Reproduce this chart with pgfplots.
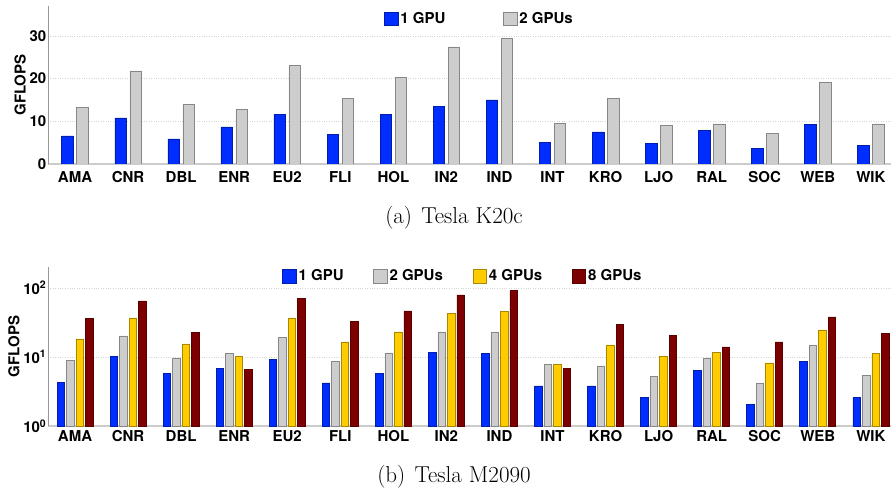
\documentclass[border=0pt]{standalone}
\usepackage{fontspec}
\usepackage{pgfplots}
\pgfplotsset{compat=1.18}
\newfontfamily\heros{TeX Gyre Heros}
\definecolor{cblue}{RGB}{0,45,255}
\definecolor{cblueD}{RGB}{0,30,170}
\definecolor{cgray}{RGB}{205,205,205}
\definecolor{cgrayD}{RGB}{135,135,135}
\definecolor{cyel}{RGB}{255,204,0}
\definecolor{cyelD}{RGB}{170,135,0}
\definecolor{cred}{RGB}{125,0,0}
\definecolor{credD}{RGB}{90,0,0}
\newcommand{\lf}{\heros\bfseries\fontsize{15}{17}\selectfont}
\pgfplotsset{
  common/.style={
    scale only axis, width=843pt,
    xmin=-0.509, xmax=15.38,
    axis x line*=bottom, axis y line*=left,
    x axis line style={draw=black!20, line width=1.6pt, -},
    y axis line style={draw=black!40, line width=0.8pt, -},
    major tick length=0pt, minor tick length=0pt,
    xtick={0,...,15},
    xticklabels={AMA,CNR,DBL,ENR,EU2,FLI,HOL,IN2,IND,INT,KRO,LJO,RAL,SOC,WEB,WIK},
    ticklabel style={font=\lf},
    ymajorgrids, grid style={dotted, draw=black!16, line width=0.5pt},
    ylabel={GFLOPS}, ylabel style={font=\lf, inner sep=2pt},
    yticklabel style={inner sep=1.5pt},
    ybar,
    legend cell align=left,
    legend style={draw=none, fill=none, inner sep=0pt, outer sep=0pt, font=\lf, legend columns=-1, anchor=west, nodes={inner sep=2pt}},
  },
}
\begin{document}
\begin{tikzpicture}
\useasboundingbox (0pt,0pt) rectangle (891pt,-489pt);
\begin{axis}[common, at={(48pt,-164pt)}, anchor=south west, height=158pt,
  ymin=0, ymax=37, ytick={0,10,20,30}, yticklabels={0,10,20,30},
  bar width=11.5pt, xticklabel style={inner sep=0pt, yshift=-7pt},
  legend style={at={(0.3986,0.918)}},
  legend image code/.code={\draw[#1, line width=0.7pt] (0pt,-6.8pt) rectangle (13.6pt,6.8pt);},
  /tikz/every even column/.append style={column sep=55.7pt}]
\addplot[fill=cblue, draw=cblueD, line width=0.6pt, bar shift=-7.5pt] coordinates {
(0,6.6) (1,10.8) (2,5.9) (3,8.7) (4,11.6) (5,6.9) (6,11.7) (7,13.5) (8,15.0) (9,5.1) (10,7.5) (11,4.9) (12,7.9) (13,3.6) (14,9.2) (15,4.3)};
\addlegendentry{1 GPU}
\addplot[fill=cgray, draw=cgrayD, line width=0.6pt, bar shift=7.5pt] coordinates {
(0,13.3) (1,21.8) (2,14.0) (3,12.7) (4,23.1) (5,15.3) (6,20.3) (7,27.4) (8,29.5) (9,9.6) (10,15.4) (11,9.1) (12,9.4) (13,7.1) (14,19.2) (15,9.4)};
\addlegendentry{2 GPUs}
\end{axis}
\node[anchor=base, font=\fontsize{23}{27}\selectfont] at (454pt,-223pt) {(a)\hspace{0.4em}Tesla K20c};
\begin{axis}[common, at={(48pt,-426pt)}, anchor=south west, height=159pt,
  ymode=log, ymin=1, ymax=200, log origin=infty,
  ytick={1,10,100}, yticklabels={10\textsuperscript{0},10\textsuperscript{1},10\textsuperscript{2}},
  bar width=7.5pt, xticklabel style={inner sep=0pt, yshift=-4pt},
  legend style={at={(0.278,0.943)}},
  legend image code/.code={\draw[#1, line width=0.7pt] (0pt,-6.8pt) rectangle (13.6pt,6.8pt);},
  /tikz/every even column/.append style={column sep=27.6pt}]
\addplot[fill=cblue, draw=cblueD, line width=0.6pt, bar shift=-14.25pt] coordinates {
(0,4.3) (1,10.3) (2,5.8) (3,6.9) (4,9.2) (5,4.2) (6,5.7) (7,11.7) (8,11.3) (9,3.8) (10,3.8) (11,2.6) (12,6.3) (13,2.06) (14,8.5) (15,2.6)};
\addlegendentry{1 GPU\hspace{6.7pt}}
\addplot[fill=cgray, draw=cgrayD, line width=0.6pt, bar shift=-4.75pt] coordinates {
(0,9.0) (1,20.2) (2,9.7) (3,11.1) (4,18.9) (5,8.5) (6,11.4) (7,23.0) (8,22.8) (9,7.8) (10,7.4) (11,5.2) (12,9.4) (13,4.1) (14,14.9) (15,5.4)};
\addlegendentry{2 GPUs}
\addplot[fill=cyel, draw=cyelD, line width=0.6pt, bar shift=4.75pt] coordinates {
(0,18.2) (1,36.7) (2,15.4) (3,10.3) (4,36.7) (5,16.5) (6,23.0) (7,42.9) (8,45.9) (9,7.8) (10,14.9) (11,10.3) (12,11.7) (13,8.2) (14,24.6) (15,11.1)};
\addlegendentry{4 GPUs\hspace{4pt}}
\addplot[fill=cred, draw=credD, line width=0.6pt, bar shift=14.25pt] coordinates {
(0,35.6) (1,64.8) (2,22.8) (3,6.6) (4,70.8) (5,32.5) (6,46.4) (7,79.2) (8,90.5) (9,6.9) (10,29.7) (11,20.6) (12,14.0) (13,16.5) (14,38.0) (15,22.0)};
\addlegendentry{8 GPUs}
\end{axis}
\node[anchor=base, font=\fontsize{23}{27}\selectfont] at (454pt,-482pt) {(b)\hspace{0.4em}Tesla M2090};
\end{tikzpicture}
\end{document}
